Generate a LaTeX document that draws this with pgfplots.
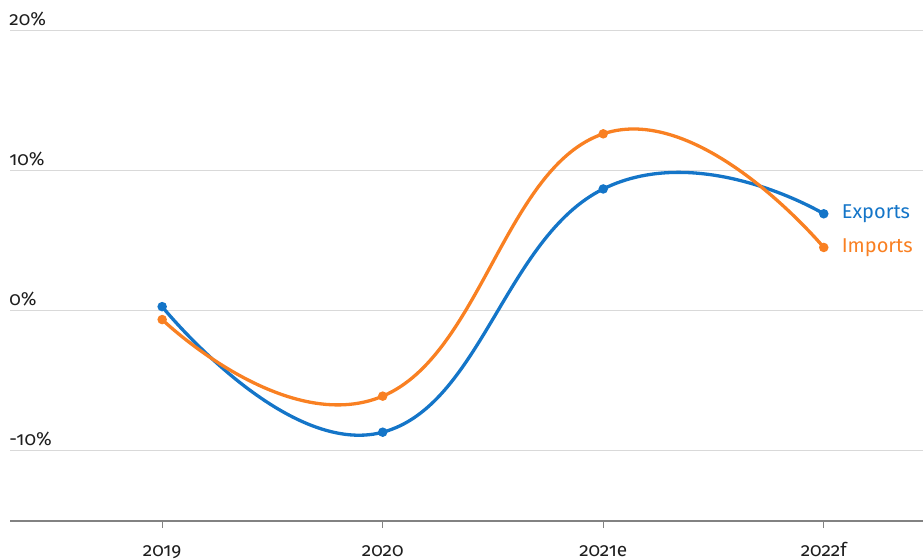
\documentclass[border=0pt]{standalone}
\usepackage{pgfplots}
\pgfplotsset{compat=1.18}
\usepackage{fontspec}
\setmainfont{Fira Sans}[Numbers=OldStyle]
\definecolor{expblue}{RGB}{20,117,200}
\definecolor{imporange}{RGB}{249,128,34}
\definecolor{gridgray}{RGB}{217,217,217}
\definecolor{axgray}{RGB}{130,130,130}
\definecolor{labtxt}{RGB}{30,30,30}

\begin{document}
\begin{tikzpicture}
  \useasboundingbox (-5pt,-19pt) rectangle (456.5pt,260.5pt);
  \begin{axis}[
      at={(0,0)}, anchor=south west,
      scale only axis,
      width=456.5pt, height=245.5pt,
      xmin=-0.69, xmax=3.45,
      ymin=-15, ymax=20,
      axis x line*=bottom,
      axis y line*=left,
      y axis line style={draw=none},
      x axis line style={axgray, line width=0.8pt},
      xtick={0,1,2,3},
      xticklabels={2019,2020,2021e,2022f},
      ytick={-10,0,10,20},
      yticklabels={-10\%,0\%,10\%,20\%},
      tick align=outside,
      major tick length=3.5pt,
      ytick style={draw=none},
      xtick style={axgray, line width=0.6pt},
      ymajorgrids,
      grid style={gridgray, line width=0.5pt},
      tick label style={font=\fontsize{9.5}{11}\selectfont, text=labtxt},
      yticklabel style={anchor=south west, inner sep=0pt, xshift=3pt, yshift=2pt},
      xticklabel style={anchor=base, yshift=-14pt},
      clip=false]
    % Exports - blue
    \addplot[expblue, line width=1.65pt, smooth, tension=0.8,
             mark=*, mark size=1.5pt, mark options={solid}]
      coordinates {(0,0.28) (1,-8.67) (2,8.67) (3,6.9)};
    % Imports - orange
    \addplot[imporange, line width=1.65pt, smooth, tension=0.8,
             mark=*, mark size=1.5pt, mark options={solid}]
      coordinates {(0,-0.64) (1,-6.1) (2,12.6) (3,4.5)};
    \node[anchor=west, text=expblue, font=\fontsize{10}{11}\selectfont, xshift=5.5pt]
      at (axis cs:3,6.9) {Exports};
    \node[anchor=west, text=imporange, font=\fontsize{10}{11}\selectfont, xshift=5.5pt]
      at (axis cs:3,4.5) {Imports};
  \end{axis}
\end{tikzpicture}
\end{document}
